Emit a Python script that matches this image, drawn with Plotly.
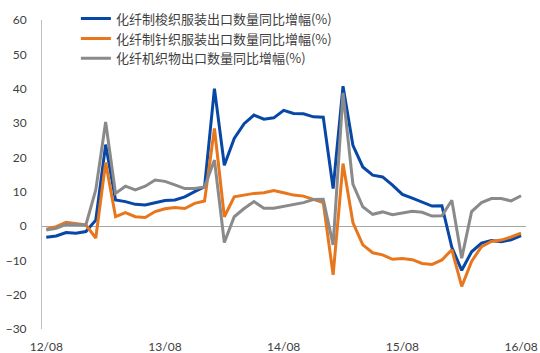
import plotly.graph_objects as go

months = list(range(49))  # months since 2012/08
tick_vals = [0, 12, 24, 36, 48]
tick_text = ["12/08", "13/08", "14/08", "15/08", "16/08"]

names = [
    "化纤制梭织服装出口数量同比增幅(%)",
    "化纤制针织服装出口数量同比增幅(%)",
    "化纤机织物出口数量同比增幅(%)",
]

woven_apparel = [-3.3, -2.9, -1.9, -2.1, -1.6, 1.7, 23.7, 7.6, 7.1, 6.3,
                 6.1, 6.8, 7.4, 7.6, 8.5, 10.0, 11.4, 40.0, 17.7, 25.5,
                 29.8, 32.3, 31.1, 31.5, 33.7, 32.8, 32.7, 31.8, 31.7, 10.9,
                 40.7, 23.5, 17.2, 14.8, 14.3, 11.9, 9.2, 8.1, 6.9, 5.8,
                 5.9, -6.2, -12.9, -7.5, -5.0, -4.2, -4.6, -4.0, -2.8]

knit_apparel = [-0.9, -0.2, 1.1, 0.6, 0.3, -3.5, 18.5, 2.7, 3.9, 2.7,
                2.5, 4.2, 5.0, 5.4, 5.1, 6.6, 7.3, 28.4, 2.7, 8.5,
                9.0, 9.5, 9.7, 10.3, 9.7, 9.0, 8.7, 7.8, 6.8, -14.2,
                18.2, 1.0, -5.5, -7.8, -8.4, -9.7, -9.5, -9.8, -10.9, -11.2,
                -9.9, -6.9, -17.6, -10.3, -6.0, -4.5, -4.1, -3.2, -2.1]

woven_fabric = [-1.2, -0.7, 0.5, 0.5, 0.3, 10.5, 30.3, 9.5, 11.6, 10.5,
                11.6, 13.4, 13.0, 12.0, 10.9, 10.9, 11.4, 19.2, -4.8, 2.7,
                5.1, 7.1, 5.2, 5.2, 5.8, 6.3, 6.8, 7.7, 7.8, -5.5,
                38.8, 12.2, 5.6, 3.4, 4.1, 3.3, 3.7, 4.3, 4.0, 2.9,
                3.0, 7.5, -9.4, 4.2, 6.8, 8.0, 8.0, 7.3, 8.8]

series = [woven_apparel, knit_apparel, woven_fabric]
colors = ["#0747A6", "#E8761D", "#8A8A8A"]

fig = go.Figure()
for name, vals, col in zip(names, series, colors):
    fig.add_trace(go.Scatter(x=months, y=vals, mode="lines", name=name,
                             line=dict(color=col, width=3)))

fig.update_layout(
    width=540, height=353,
    margin=dict(l=42, r=14, t=20, b=24, autoexpand=False),
    paper_bgcolor="white", plot_bgcolor="white",
    font=dict(family="Lato, 'Noto Sans CJK SC', sans-serif", size=12, color="#404040"),
    showlegend=True,
    legend=dict(xref="paper", yref="paper", x=0.07, y=1.053,
                xanchor="left", yanchor="top",
                font=dict(family="'Noto Sans CJK SC', sans-serif", size=13, color="#404040"),
                bgcolor="rgba(0,0,0,0)", itemwidth=30, tracegroupgap=0),
)
fig.update_xaxes(range=[-0.435, 48.5], tickmode="array", tickvals=tick_vals,
                 ticktext=tick_text, showgrid=False, showline=False, zeroline=False,
                 ticks="", ticklabelstandoff=9)
fig.update_yaxes(range=[-30, 60], dtick=10, showgrid=False, showline=True,
                 linecolor="#BFBFBF", linewidth=1, zeroline=True,
                 zerolinecolor="#A6A6A6", zerolinewidth=1, ticks="",
                 ticklabelstandoff=12)

fig.write_html("out.html")
